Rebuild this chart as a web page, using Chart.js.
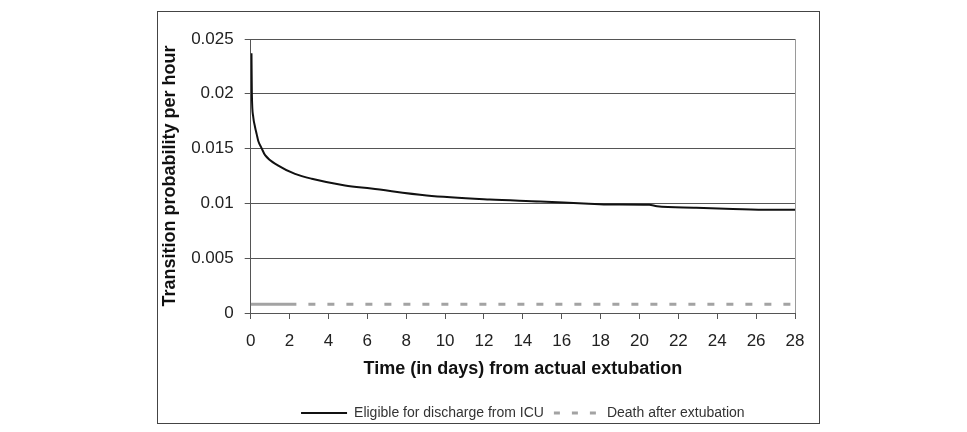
<!DOCTYPE html>
<html>
<head>
<meta charset="utf-8">
<script src="https://cdn.jsdelivr.net/npm/chart.js@4/dist/chart.umd.min.js"></script>
<style>
  html, body { margin: 0; padding: 0; background: #fff; }
  #wrap { width: 967px; height: 432px; position: relative; }
</style>
</head>
<body>
<div id="wrap"><canvas id="chart" width="967" height="432"></canvas></div>
<script>
const seriesNames = ['Eligible for discharge from ICU', 'Death after extubation']

// days after extubation -> hourly transition probability
const eligibleDays = [0.04, 0.06, 0.13, 0.22, 0.31, 0.39, 0.57, 0.74, 1.42, 2.28, 3.14, 4.85, 6.2, 9.05, 12.3, 14.9, 17.4, 18.5, 20.5, 20.9, 22.8, 24.8, 26.7, 28]
const eligibleValues = [0.0237, 0.0200, 0.0179, 0.0170, 0.0163, 0.0157, 0.0150, 0.0144, 0.01345, 0.0127, 0.01225, 0.01164, 0.01136, 0.01073, 0.01036, 0.01018, 0.00997, 0.00990, 0.00988, 0.00973, 0.0096, 0.0095, 0.00943, 0.00943]

const deathDays = [0, 2.35, 28]
const deathValues = [0.0008, 0.0008, 0.0008]

const xTickLabels = ['0', '2', '4', '6', '8', '10', '12', '14', '16', '18', '20', '22', '24', '26', '28']
const yTickLabels = ['0', '0.005', '0.01', '0.015', '0.02', '0.025']

const FONT = '"Liberation Sans", Arial, sans-serif'
const lineColors = ['#111111', '#a3a3a3']

function toPoints(xs, ys) {
	return xs.map((x, i) => ({ x: x, y: ys[i] }))
}

// white page, outer frame and right edge of the plot
const framePlugin = {
	id: 'frame',
	beforeDraw(chart) {
		const ctx = chart.ctx
		ctx.save()
		ctx.fillStyle = '#fff'
		ctx.fillRect(0, 0, chart.width, chart.height)
		ctx.restore()
	},
	afterDraw(chart) {
		const ctx = chart.ctx
		const a = chart.chartArea
		ctx.save()
		ctx.strokeStyle = '#9a9a9a'
		ctx.lineWidth = 1
		ctx.beginPath()
		ctx.moveTo(Math.round(a.right) + 0.5, a.top)
		ctx.lineTo(Math.round(a.right) + 0.5, a.bottom)
		ctx.stroke()
		ctx.strokeStyle = '#444'
		ctx.strokeRect(157.5, 11.5, 662, 412)
		ctx.restore()
	}
}

const ctx = document.getElementById('chart')
new Chart(ctx, {
	type: 'line',
	data: {
		datasets: [
			{
				label: seriesNames[0],
				data: toPoints(eligibleDays, eligibleValues),
				borderColor: lineColors[0],
				borderWidth: 2,
				pointRadius: 0,
				cubicInterpolationMode: 'monotone',
			},
			{
				label: seriesNames[1],
				data: toPoints(deathDays, deathValues),
				borderColor: lineColors[1],
				borderWidth: 3,
				pointRadius: 0,
				segment: {
					borderDash: c => c.p0DataIndex >= 1 ? [7, 12] : undefined,
					borderDashOffset: c => c.p0DataIndex >= 1 ? 7 : 0,
				},
			},
		],
	},
	options: {
		responsive: false,
		animation: false,
		maintainAspectRatio: false,
		layout: { padding: { left: 157, right: 172, top: 39, bottom: 2 } },
		plugins: {
			tooltip: { enabled: false },
			legend: {
				position: 'bottom',
				fullSize: false,
				labels: {
					usePointStyle: true,
					pointStyleWidth: 46,
					boxHeight: 12,
					padding: 10,
					color: '#333',
					font: { family: FONT, size: 14 },
					generateLabels: () => seriesNames.map((name, i) => ({
						text: name,
						datasetIndex: i,
						pointStyle: 'line',
						strokeStyle: lineColors[i],
						fillStyle: lineColors[i],
						lineWidth: i === 0 ? 2 : 3,
						lineDash: i === 0 ? [] : [6, 12],
						fontColor: '#333',
						hidden: false,
					})),
				},
			},
		},
		scales: {
			x: {
				type: 'linear',
				min: 0,
				max: 28,
				afterFit: s => { s.height = 83 },
				ticks: {
					stepSize: 2,
					color: '#222',
					padding: 12,
					font: { family: FONT, size: 17 },
					callback: (v, i) => xTickLabels[i],
				},
				grid: { drawOnChartArea: false, tickLength: 6, color: '#555' },
				border: { color: '#555' },
				title: {
					display: true,
					text: 'Time (in days) from actual extubation',
					color: '#111',
					font: { family: FONT, size: 18, weight: 'bold' },
					padding: { top: 0, bottom: 16 },
				},
			},
			y: {
				min: 0,
				max: 0.025,
				afterFit: s => { s.width = 93.7 },
				ticks: {
					stepSize: 0.005,
					color: '#222',
					padding: 11,
					font: { family: FONT, size: 17 },
					callback: (v, i) => yTickLabels[i],
				},
				grid: { tickLength: 6, color: '#555' },
				border: { color: '#555' },
				title: {
					display: true,
					text: 'Transition probability per hour',
					color: '#111',
					font: { family: FONT, size: 18, weight: 'bold' },
					padding: { top: 2, bottom: 0 },
				},
			},
		},
	},
	plugins: [framePlugin],
})
</script>
</body>
</html>
